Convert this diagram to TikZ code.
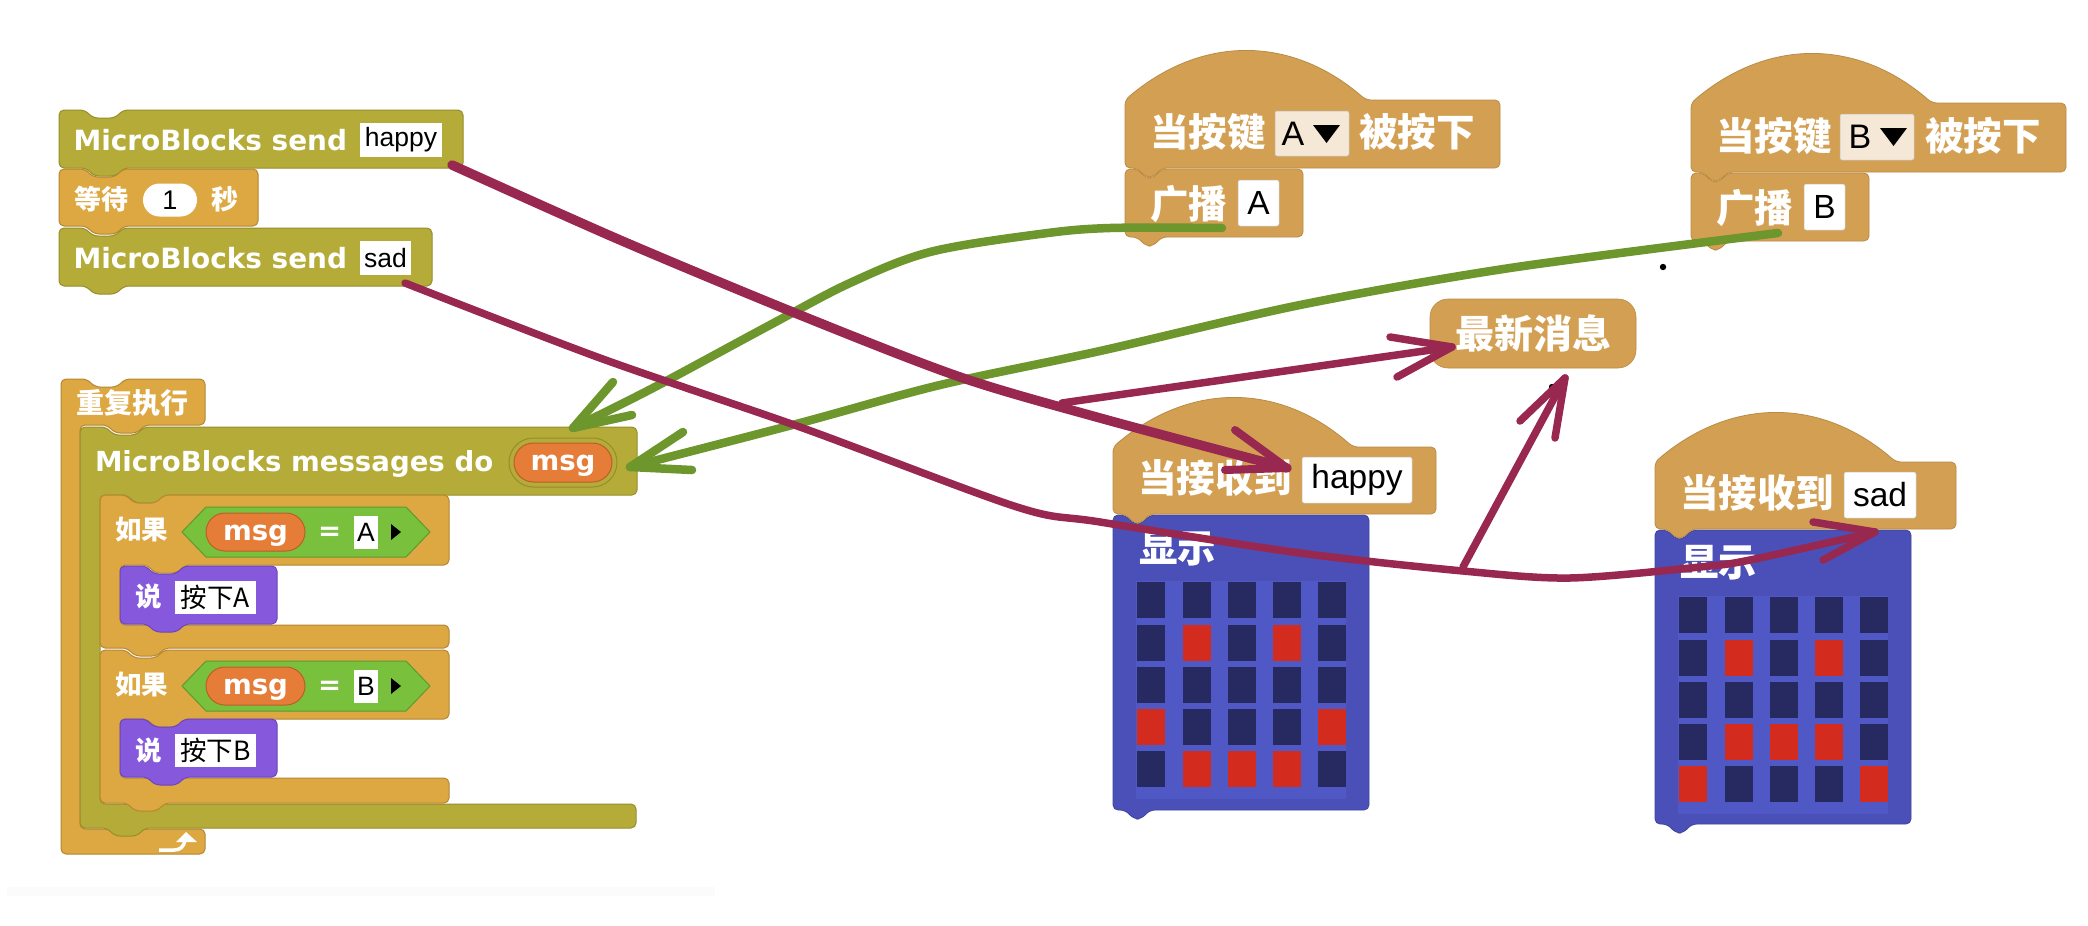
\documentclass[tikz,border=0pt]{standalone}
\usepackage{fontspec}
\setmainfont{Liberation Sans}
\newfontfamily\cjkfont{Noto Sans CJK SC}
\newfontfamily\vbfont{DejaVu Sans}
\usetikzlibrary{shapes.misc}
\definecolor{olive}{HTML}{B5AB38}\definecolor{oliveD}{HTML}{968D2C}
\definecolor{gold}{HTML}{DDA742}\definecolor{goldD}{HTML}{B58733}
\definecolor{tan}{HTML}{D3A053}\definecolor{tanD}{HTML}{B98B45}
\definecolor{purp}{HTML}{8558DC}\definecolor{purpD}{HTML}{6D46B8}
\definecolor{pgreen}{HTML}{79C03C}\definecolor{pgreenD}{HTML}{5F9A2E}
\definecolor{orng}{HTML}{E57C37}\definecolor{orngD}{HTML}{B9602A}
\definecolor{dblue}{HTML}{4A50B8}\definecolor{dblueD}{HTML}{3F449C}
\definecolor{gridbg}{HTML}{4F58C4}\definecolor{ledoff}{HTML}{262A60}\definecolor{ledon}{HTML}{D32C1F}
\definecolor{wine}{HTML}{98284F}\definecolor{grass}{HTML}{6D962D}
\definecolor{menu}{HTML}{F6E8D6}
\newcommand\cjb[1]{\fontsize{#1}{#1}\cjkfont\bfseries\selectfont}
\newcommand\cjr[1]{\fontsize{#1}{#1}\cjkfont\selectfont}
\newcommand\vbb[1]{\fontsize{#1}{#1}\vbfont\bfseries\selectfont}
\newcommand\arl[1]{\fontsize{#1}{#1}\rmfamily\selectfont}
% stack block: style, x1,y1,x2,y2 with top notch and bottom bump
\newcommand\stackblk[5]{\draw[#1,rounded corners=5] (#2,#3) -- ({#2+26},#3) -- ({#2+34},{#3+8}) -- ({#2+56},{#3+8}) -- ({#2+64},#3) -- (#4,#3) -- (#4,#5) -- ({#2+65},#5) -- ({#2+57},{#5+8}) -- ({#2+35},{#5+8}) -- ({#2+27},#5) -- (#2,#5) -- cycle;}
% C block: style, x1,y1,x2,y2(header bottom), y3(arm top), x4(arm right), y4(arm bottom), arm inset
\newcommand\cblk[9]{\draw[#1,rounded corners=5] (#2,#3) -- ({#2+26},#3) -- ({#2+34},{#3+8}) -- ({#2+56},{#3+8}) -- ({#2+64},#3) -- (#4,#3) -- (#4,#5) -- ({#2+#9+65},#5) -- ({#2+#9+57},{#5+8}) -- ({#2+#9+35},{#5+8}) -- ({#2+#9+27},#5) -- ({#2+#9},#5) -- ({#2+#9},#6) -- (#7,#6) -- (#7,#8) -- ({#2+65},#8) -- ({#2+57},{#8+8}) -- ({#2+35},{#8+8}) -- ({#2+27},#8) -- (#2,#8) -- cycle;}
% hat: x left, shoulder y, arc end x, right x, bottom y
\newcommand\hatblk[5]{\draw[hatb,rounded corners=5] (#1,#2) .. controls ({#1+75},{#2-64}) and ({#1+165},{#2-66}) .. (#3,#2) -- (#4,#2) -- (#4,#5) -- ({#1+37},#5) -- ({#1+28},{#5+9}) -- ({#1+21},{#5+9}) -- ({#1+12},#5) -- (#1,#5) -- cycle;}
% tan/blue block with small notch: style,x1,y1,x2,y2
\newcommand\capblk[5]{\draw[#1,rounded corners=5] (#2,#3) -- ({#2+12},#3) -- ({#2+21},{#3+9}) -- ({#2+28},{#3+9}) -- ({#2+37},#3) -- (#4,#3) -- (#4,#5) -- ({#2+37},#5) -- ({#2+28},{#5+9}) -- ({#2+21},{#5+9}) -- ({#2+12},#5) -- (#2,#5) -- cycle;}
\newcommand\hexa[3]{\draw[fill=pgreen,draw=pgreenD,line width=1] (#1,#2) -- ({#1+24},{#2-25}) -- ({#1+224},{#2-25}) -- (#3,#2) -- ({#1+224},{#2+25}) -- ({#1+24},{#2+25}) -- cycle;
 \fill[black] (391,{#2-8}) -- (401,#2) -- (391,{#2+8}) -- cycle;}
\newcommand\ledgrid[3]{\fill[gridbg] ({#1-1},{#2-1}) rectangle ({#1+209},{#2+217});
 \foreach \cx in {0,46,91,136,181}{\foreach \ry in {0,43,85,127,169}{\fill[ledoff] ({#1+\cx},{#2+\ry}) rectangle ++(28,36);}}
 \foreach \cx/\ry in {#3}{\fill[ledon] ({#1+\cx},{#2+\ry}) rectangle ++(28,36);}}
\tikzset{
 x=1pt,y=-1pt,
 oliveb/.style={fill=olive,draw=oliveD,line width=1},
 goldb/.style={fill=gold,draw=goldD,line width=1},
 purpb/.style={fill=purp,draw=purpD,line width=1},
 hatb/.style={fill=tan,draw=tanD,line width=.8},
 blueb/.style={fill=dblue,draw=dblueD,line width=.8},
 lbl/.style={inner sep=0,outer sep=0,text=white,anchor=west},
 basel/.style={inner sep=0,outer sep=0,text=white,anchor=base west},
 inp/.style={fill=white,inner sep=0,outer sep=0,text=black,font=\arl{26.5}},
 inpbig/.style={fill=white,draw=black!25,line width=.5,rounded corners=2,inner sep=0,text=black,font=\arl{33.5}},
 menub/.style={fill=menu,draw=black!25,line width=.5,rounded corners=2},
 pill/.style={rounded rectangle,inner sep=0,outer sep=0},
 msgpill/.style={pill,fill=orng,draw=orngD,line width=1,text=white,font=\vbb{27.6},text height=16.5,text depth=0},
 wineline/.style={draw=wine,line width=7.5,line cap=round,line join=round},
 grassline/.style={draw=grass,line width=8.5,line cap=round,line join=round},
}
\begin{document}
\begin{tikzpicture}
\useasboundingbox (0,0) rectangle (2088,926);
\fill[white] (0,0) rectangle (2088,926);
\fill[black!1.5] (7,887) rectangle (715,896);
% ---- top stack
\stackblk{oliveb}{59}{110}{463}{168}
\node[basel,font=\vbb{27.9}] (sendA) at (73.5,150) {MicroBlocks send};
\node[inp,minimum width=82,minimum height=34] (happyIn) at (401,140) {happy};
\stackblk{goldb}{59}{169}{258}{226}
\node[lbl,font=\cjb{27}] (wait) at (74,199) {等待};
\node[pill,fill=white,minimum width=54,minimum height=33,text=black,font=\arl{27}] (waitN) at (170,200) {1};
\node[lbl,font=\cjb{27}] (sec) at (211,199) {秒};
\stackblk{oliveb}{59}{228}{432}{286}
\node[basel,font=\vbb{27.9}] (sendB) at (73.5,268) {MicroBlocks send};
\node[inp,minimum width=51,minimum height=34] (sadIn) at (385.5,258) {sad};
% ---- loop
\draw[goldb,rounded corners=5] (61,379) -- (87,379) -- (95,387) -- (117,387) -- (125,379) -- (205,379) -- (205,425) -- (145,425) -- (137,433) -- (115,433) -- (107,425) -- (80,425) -- (80,829) -- (205,829) -- (205,854) -- (61,854) -- cycle;
\node[lbl,font=\cjb{28}] (loopT) at (76,403) {重复执行};
\draw[white,line width=3.5] (159,850) -- (174,850) .. controls (180,850) and (184,847) .. (185,840);
\fill[white] (176,842) -- (186,832) -- (197,842) -- cycle;
% messages
\cblk{oliveb}{80}{427}{637}{495}{804}{636}{828}{20}
\node[basel,font=\vbb{27.6}] (mbDo) at (95,471) {MicroBlocks messages do};
\node[pill,draw=oliveD,line width=1,minimum width=108,minimum height=49] (msgO) at (563,462.5) {};
\node[msgpill,minimum width=98,minimum height=39] (msg0) at (563,462.5) {msg};
% if 1
\cblk{goldb}{100}{495}{449}{565}{625}{449}{648}{20}
\node[lbl,font=\cjb{26.5}] (if1) at (115,530) {如果};
\hexa{182}{532}{430}
\node[msgpill,minimum width=99,minimum height=38] (msg1) at (255.5,532) {msg};
\node[lbl,font=\vbb{27.6}] (eq1) at (318,534) {=};
\node[inp,minimum width=24,minimum height=33] (a1) at (366,532) {A};
\stackblk{purpb}{120}{566}{277}{624}
\node[lbl,font=\cjb{26.5}] (say1) at (135,596) {说};
\node[inp,minimum width=81,minimum height=33,font=\cjr{26.5}] (say1t) at (215.5,597) {按下A};
% if 2
\cblk{goldb}{100}{650}{449}{719}{778}{449}{803}{20}
\node[lbl,font=\cjb{26.5}] (if2) at (115,685) {如果};
\hexa{182}{686}{430}
\node[msgpill,minimum width=99,minimum height=38] (msg2) at (255.5,686) {msg};
\node[lbl,font=\vbb{27.6}] (eq2) at (318,688) {=};
\node[inp,minimum width=24,minimum height=33] (b1) at (366,686) {B};
\stackblk{purpb}{120}{719}{277}{777}
\node[lbl,font=\cjb{26.5}] (say2) at (135,750) {说};
\node[inp,minimum width=81,minimum height=33,font=\cjr{26.5}] (say2t) at (215.5,750) {按下B};
% ---- key A
\capblk{hatb}{1125}{169}{1303}{237}
\node[lbl,font=\cjb{38.5}] (castA) at (1150,204) {广播};
\node[inpbig,minimum width=41,minimum height=46] (castAin) at (1258.5,203) {A};
\hatblk{1125}{100}{1366}{1500}{168}
\node[lbl,font=\cjb{38.5}] (keyA) at (1150,132) {当按键};
\draw[menub] (1275,111) rectangle (1349,156);
\node[inner sep=0,text=black,font=\arl{34}] (keyAv) at (1293,134) {A};
\fill[black] (1313,125) -- (1340,125) -- (1326.5,143) -- cycle;
\node[lbl,font=\cjb{38.5}] (keyA2) at (1359,132) {被按下};
% ---- key B
\capblk{hatb}{1691}{173}{1869}{241}
\node[lbl,font=\cjb{38.5}] (castB) at (1716,208) {广播};
\node[inpbig,minimum width=41,minimum height=46] (castBin) at (1824.5,207) {B};
\hatblk{1691}{103}{1932}{2066}{172}
\node[lbl,font=\cjb{38.5}] (keyB) at (1716,136) {当按键};
\draw[menub] (1840,114) rectangle (1914,160);
\node[inner sep=0,text=black,font=\arl{34}] (keyBv) at (1860,137) {B};
\fill[black] (1880,128) -- (1907,128) -- (1893.5,146) -- cycle;
\node[lbl,font=\cjb{38.5}] (keyB2) at (1925,136) {被按下};
% ---- latest
\node[fill=tan,draw=tanD,line width=.6,rounded corners=18,inner sep=0,minimum width=206,minimum height=69,text=white,font=\cjb{39}] (latest) at (1533,333.5) {最新消息};
\fill[black] (1552,387) circle (3.2);
\fill[black] (1663,267) circle (3.2);
% ---- display happy
\capblk{blueb}{1113}{515}{1369}{810}
\node[lbl,font=\cjb{38.5}] (disp1) at (1139,549) {显示};
\ledgrid{1137}{582}{46/43,136/43,0/127,181/127,46/169,91/169,136/169}
\hatblk{1113}{447}{1353}{1436}{514}
\node[lbl,font=\cjb{38.5}] (recv1) at (1138,478) {当接收到};
\node[inpbig,minimum width=110,minimum height=46] (recv1in) at (1357,480) {happy};
% ---- display sad
\capblk{blueb}{1655}{530}{1911}{824}
\node[lbl,font=\cjb{38.5}] (disp2) at (1680,563) {显示};
\ledgrid{1679}{597}{46/43,136/43,46/127,91/127,136/127,0/169,181/169}
\hatblk{1655}{462}{1896}{1956}{529}
\node[lbl,font=\cjb{38.5}] (recv2) at (1680,493) {当接收到};
\node[inpbig,minimum width=72,minimum height=46] (recv2in) at (1880,495) {sad};
% ---- connector ends
\coordinate (gAs) at (1222,228);
\coordinate (gAt) at (573,428);
\coordinate (gBs) at (1778,233);
\coordinate (gBt) at (630,467);
\coordinate (rHs) at (452,165);
\coordinate (rHt) at (1287,468);
\coordinate (rSs) at (405,283);
\coordinate (rSt) at (1875,532);
\coordinate (rJ) at (1062,403);
\coordinate (rLt) at (1452,347);
\coordinate (rK) at (1463,567);
\coordinate (rMt) at (1565,378);
% ---- green
\draw[grassline] plot[smooth,tension=.55] coordinates {(gAs) (1110,228) (1040,234) (930,252) (850,283) (770,325) (653,388) (gAt)};
\draw[grassline] (613,382) -- (gAt) -- (632,415);
\draw[grassline] plot[smooth,tension=.5] coordinates {(gBs) (1510,268) (1300,305) (1100,351) (940,385) (800,423) (gBt)};
\draw[grassline] (683,432) -- (gBt) -- (692,470);
% ---- wine
\draw[wineline,line width=9.5] plot[smooth,tension=.5] coordinates {(rHs) (620,240) (800,315) (960,377) (1100,418) (rHt)};
\draw[wineline,line width=8] (1235,430) -- (rHt) -- (1225,470);
\draw[wineline] plot[smooth,tension=.5] coordinates {(rSs) (600,358) (800,427) (1017,507) (1100,522) (1300,553) (1463,571) (1570,578) (1700,567) (1750,560) (rSt)};
\draw[wineline] (1813,522) -- (rSt) -- (1823,560);
\draw[wineline] (rJ) -- (rLt);
\draw[wineline] (1390,337) -- (rLt) -- (1397,377);
\draw[wineline] (rK) -- (rMt);
\draw[wineline] (1520,421) -- (rMt) -- (1555,438);
\end{tikzpicture}
\end{document}
